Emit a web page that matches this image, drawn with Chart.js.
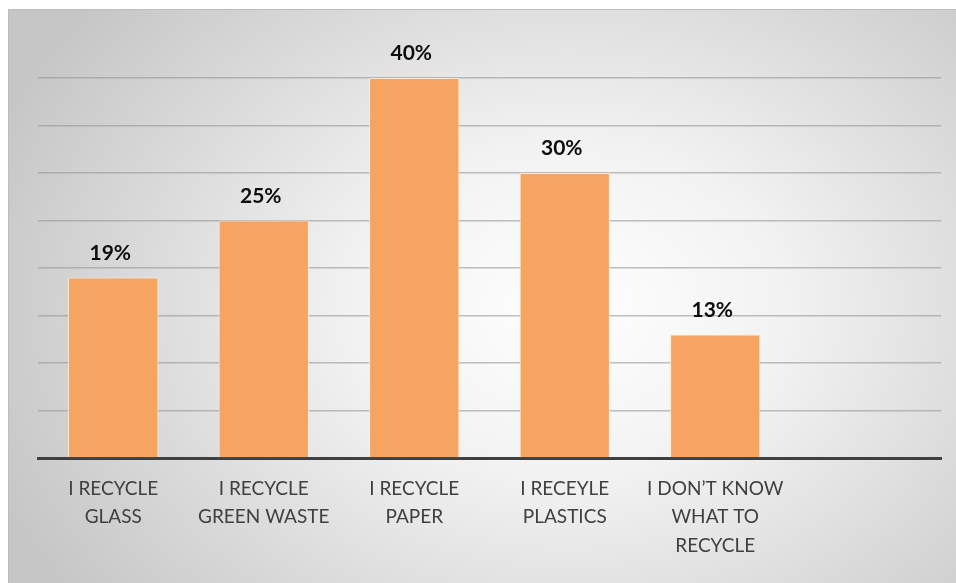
<!DOCTYPE html>
<html>
<head>
<meta charset="utf-8">
<script src="https://cdn.jsdelivr.net/npm/chart.js@4.4.1/dist/chart.umd.min.js"></script>
<style>
  html, body { margin: 0; padding: 0; background: #fff; }
  .frame {
    position: absolute; left: 8px; top: 9px; width: 948px; height: 574px;
    border-top: 1px solid #bdbdbd; border-left: 1px solid #bdbdbd;
    box-sizing: border-box;
    background: radial-gradient(ellipse 620px 480px at 560px 300px, #ffffff 0%, #f2f2f2 35%, #dadada 70%, #c6c6c6 100%);
  }
  canvas { display: block; }
</style>
</head>
<body>
<div class="frame">
  <canvas id="chart" width="947" height="573"></canvas>
</div>
<script>
// chart data
const categories = [
  ['I RECYCLE', 'GLASS'],
  ['I RECYCLE', 'GREEN WASTE'],
  ['I RECYCLE', 'PAPER'],
  ['I RECEYLE', 'PLASTICS'],
  ['I DON\u2019T KNOW', 'WHAT TO', 'RECYCLE'],
  ''
];
const percentValues = [19, 25, 40, 30, 13, null];
const yMax = 40;
const yStep = 5;

// draws "NN%" above each bar
const valueLabels = {
  id: 'valueLabels',
  afterDatasetsDraw(chart) {
    const ctx = chart.ctx;
    const meta = chart.getDatasetMeta(0);
    ctx.save();
    ctx.font = 'bold 21px Lato';
    ctx.fillStyle = '#0d0d0d';
    ctx.textAlign = 'center';
    ctx.textBaseline = 'bottom';
    meta.data.forEach((bar, i) => {
      const v = percentValues[i];
      if (v == null) return;
      ctx.fillText(v + '%', bar.x - 3, bar.y - 14);
    });
    ctx.restore();
  }
};

new Chart(document.getElementById('chart'), {
  type: 'bar',
  data: {
    labels: categories,
    datasets: [{
      data: percentValues,
      backgroundColor: '#f5a461',
      borderColor: 'rgba(255,236,215,0.9)',
      borderWidth: 1,
      barPercentage: 0.6,
      categoryPercentage: 1.0
    }]
  },
  options: {
    responsive: false,
    animation: false,
    layout: { padding: { top: 68, left: 29, right: 15, bottom: 0 } },
    plugins: {
      legend: { display: false },
      tooltip: { enabled: false }
    },
    scales: {
      x: {
        grid: { display: false },
        border: { display: true, color: '#404040', width: 3 },
        ticks: {
          color: '#404040',
          font: { family: 'Lato', size: 19, lineHeight: 1.52 },
          padding: 8,
          maxRotation: 0,
          autoSkip: false
        },
        afterFit(scale) { scale.height = 125; }
      },
      y: {
        min: 0,
        max: yMax,
        ticks: { display: false, stepSize: yStep },
        grid: { color: 'rgba(150,150,150,0.6)', lineWidth: 1.5, drawTicks: false },
        border: { display: false },
        afterFit(scale) { scale.width = 0; }
      }
    }
  },
  plugins: [valueLabels]
});
</script>
</body>
</html>
